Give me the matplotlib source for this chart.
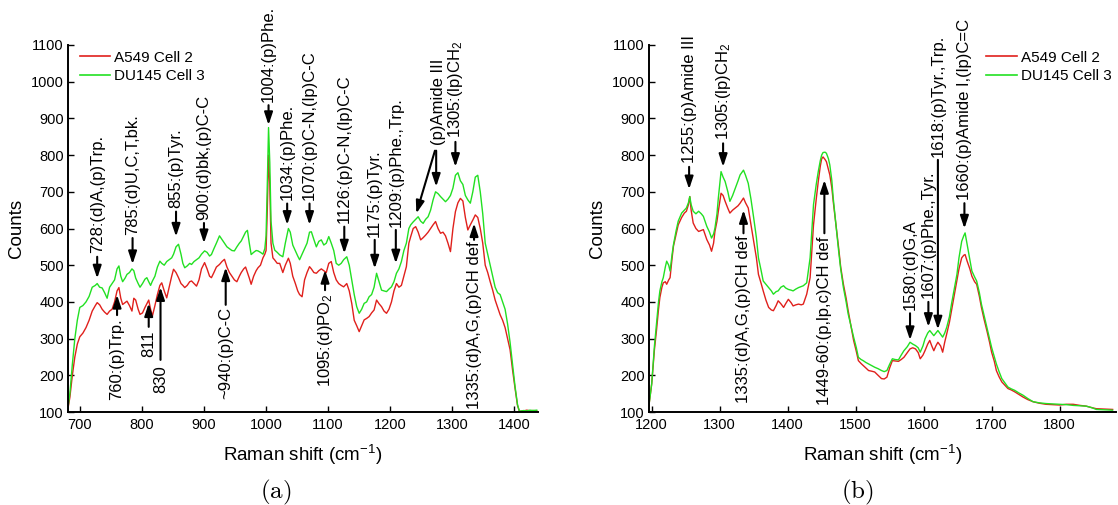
import matplotlib
matplotlib.use("Agg")
import matplotlib.pyplot as plt
from matplotlib.lines import Line2D

plt.rcParams['font.family'] = ['Liberation Sans', 'DejaVu Sans']
plt.rcParams['mathtext.fontset'] = 'custom'
plt.rcParams['mathtext.rm'] = 'Liberation Sans'
plt.rcParams['mathtext.it'] = 'Liberation Sans:italic'
plt.rcParams['mathtext.bf'] = 'Liberation Sans:bold'

RED = '#e0201c'
GREEN = '#22e022'
series_names = ['A549 Cell 2', 'DU145 Cell 3']

# ---- panel (a): fingerprint region ----
shift_a = [680, 684, 688, 692, 696, 700, 705, 710, 715, 720, 725, 728, 732, 736, 740,
           744, 748, 752, 756, 760, 763, 766, 769, 773, 776, 780, 784, 787, 790, 794,
           797, 801, 805, 808, 811, 814, 817, 821, 825, 829, 832, 836, 840, 844, 848,
           851, 855, 859, 863, 866, 869, 873, 877, 880, 884, 888, 892, 896, 901, 905,
           909, 912, 916, 920, 925, 929, 933, 937, 941, 945, 949, 953, 957, 960, 964,
           967, 970, 973, 976, 980, 984, 987, 991, 995, 998, 1000, 1002, 1004, 1006, 1008,
           1011, 1014, 1018, 1022, 1027, 1031, 1036, 1039, 1043, 1047, 1051, 1054, 1058, 1062, 1066,
           1070, 1073, 1077, 1081, 1085, 1089, 1093, 1097, 1101, 1105, 1109, 1113, 1117, 1121, 1125,
           1130, 1134, 1138, 1142, 1146, 1150, 1154, 1158, 1162, 1166, 1170, 1174, 1178, 1182, 1186,
           1190, 1194, 1198, 1202, 1206, 1210, 1214, 1218, 1222, 1226, 1230, 1233, 1237, 1241, 1245,
           1249, 1253, 1257, 1261, 1265, 1269, 1273, 1277, 1281, 1285, 1289, 1293, 1297, 1301, 1305,
           1309, 1313, 1317, 1321, 1325, 1329, 1333, 1337, 1341, 1345, 1349, 1353, 1357, 1361, 1365,
           1369, 1373, 1377, 1381, 1385, 1389, 1393, 1397, 1401, 1405, 1408, 1415, 1420, 1425, 1430,
           1436]
a549_a = [100, 140, 200, 250, 285, 305, 315, 330, 350, 375, 390, 398, 392, 380, 372,
          366, 375, 380, 400, 430, 439, 410, 393, 398, 402, 390, 375, 410, 405, 380,
          366, 370, 385, 395, 405, 380, 362, 390, 420, 445, 452, 430, 411, 440, 470,
          489, 480, 466, 450, 445, 439, 445, 455, 457, 450, 443, 460, 490, 507, 490,
          470, 466, 480, 495, 502, 510, 516, 495, 480, 470, 460, 455, 470, 480, 490,
          495, 480, 465, 448, 470, 485, 493, 500, 520, 530, 540, 650, 800, 720, 560,
          520, 514, 505, 505, 480, 500, 519, 505, 470, 451, 430, 420, 414, 460, 480,
          496, 490, 480, 478, 485, 490, 485, 480, 505, 510, 480, 460, 450, 445, 441,
          450, 430, 396, 350, 335, 319, 335, 351, 355, 360, 370, 378, 405, 395, 387,
          375, 369, 380, 400, 430, 450, 440, 445, 470, 496, 560, 578, 600, 605, 590,
          569, 575, 582, 590, 600, 610, 619, 600, 587, 590, 580, 560, 537, 600, 646,
          670, 682, 675, 630, 596, 610, 623, 637, 630, 600, 560, 500, 480, 455, 432,
          405, 385, 365, 350, 330, 300, 270, 215, 165, 118, 102, 103, 105, 103, 104,
          103]
du145_a = [100, 150, 230, 300, 350, 385, 390, 400, 415, 440, 445, 450, 440, 438, 425,
           410, 440, 450, 460, 490, 498, 470, 455, 465, 475, 480, 490, 485, 465, 450,
           440, 450, 462, 466, 455, 445, 457, 470, 495, 511, 505, 500, 510, 515, 520,
           530, 550, 557, 530, 505, 493, 498, 505, 502, 510, 515, 520, 530, 539, 535,
           525, 529, 545, 560, 580, 570, 560, 550, 545, 540, 539, 550, 560, 566, 580,
           590, 595, 560, 529, 535, 540, 539, 535, 530, 545, 580, 720, 875, 780, 620,
           560, 541, 535, 528, 523, 560, 600, 590, 555, 540, 525, 515, 530, 545, 560,
           590, 591, 570, 550, 565, 569, 555, 560, 578, 560, 540, 505, 500, 505, 515,
           523, 500, 460, 420, 387, 369, 380, 396, 400, 414, 420, 440, 478, 455, 432,
           430, 428, 435, 441, 455, 478, 490, 510, 540, 560, 600, 610, 618, 625, 632,
           620, 614, 625, 632, 650, 678, 700, 695, 687, 680, 673, 680, 690, 710, 745,
           752, 730, 720, 690, 678, 669, 700, 740, 745, 700, 640, 560, 530, 500, 470,
           440, 425, 420, 400, 380, 340, 290, 230, 170, 120, 102, 104, 103, 105, 104,
           105]

# ---- panel (b): high-wavenumber region ----
shift_b = [1195, 1200, 1204, 1207, 1210, 1212, 1215, 1217, 1220, 1222, 1225, 1227, 1230, 1232, 1236,
           1239, 1244, 1248, 1251, 1254, 1256, 1258, 1261, 1265, 1269, 1273, 1276, 1281, 1285, 1288,
           1291, 1293, 1296, 1298, 1302, 1305, 1308, 1312, 1315, 1319, 1323, 1327, 1330, 1335, 1338,
           1342, 1346, 1350, 1354, 1357, 1361, 1364, 1368, 1372, 1376, 1379, 1383, 1386, 1390, 1394,
           1397, 1401, 1405, 1408, 1412, 1416, 1420, 1423, 1428, 1433, 1438, 1442, 1445, 1448, 1450,
           1452, 1455, 1457, 1460, 1462, 1465, 1467, 1471, 1475, 1478, 1482, 1486, 1489, 1493, 1497,
           1501, 1504, 1508, 1511, 1515, 1519, 1524, 1528, 1533, 1538, 1542, 1546, 1550, 1554, 1558,
           1563, 1567, 1571, 1576, 1580, 1584, 1588, 1592, 1595, 1599, 1602, 1606, 1609, 1612, 1615,
           1618, 1621, 1625, 1628, 1631, 1634, 1638, 1641, 1645, 1649, 1652, 1656, 1659, 1661, 1664,
           1668, 1671, 1675, 1678, 1682, 1685, 1689, 1693, 1697, 1700, 1704, 1707, 1711, 1715, 1720,
           1724, 1729, 1734, 1740, 1746, 1753, 1761, 1770, 1780, 1790, 1800, 1810, 1820, 1830, 1839,
           1847, 1854, 1865, 1878]
a549_b = [105, 177, 270, 322, 380, 412, 440, 452, 455, 448, 460, 466, 520, 552, 585,
          610, 630, 642, 647, 665, 687, 650, 615, 600, 592, 595, 597, 570, 555, 538,
          560, 592, 620, 647, 696, 690, 674, 655, 642, 650, 656, 662, 669, 683, 670,
          656, 610, 565, 520, 475, 450, 430, 405, 385, 378, 376, 390, 403, 395, 385,
          395, 407, 398, 389, 392, 394, 392, 394, 421, 466, 610, 680, 728, 770, 790,
          795, 788, 782, 760, 746, 710, 674, 610, 547, 495, 448, 410, 376, 335, 295,
          265, 240, 232, 227, 220, 213, 211, 209, 200, 191, 190, 195, 220, 240, 239,
          238, 243, 249, 262, 272, 275, 272, 262, 245, 255, 267, 285, 295, 280, 267,
          280, 290, 280, 263, 290, 313, 345, 376, 417, 457, 490, 520, 527, 529, 511,
          490, 470, 455, 448, 415, 385, 352, 322, 290, 263, 238, 213, 196, 182, 172,
          164, 160, 155, 148, 141, 134, 128, 124, 121, 120, 119, 121, 121, 118, 116,
          112, 109, 108, 107]
du145_b = [105, 177, 280, 340, 400, 430, 455, 466, 495, 511, 500, 484, 530, 556, 595,
           620, 642, 650, 656, 670, 687, 665, 647, 640, 647, 640, 633, 606, 590, 574,
           585, 601, 640, 683, 755, 740, 728, 700, 674, 690, 710, 730, 746, 759, 745,
           723, 680, 629, 575, 520, 485, 457, 448, 439, 430, 421, 428, 430, 440, 444,
           438, 434, 432, 430, 435, 439, 442, 444, 452, 520, 665, 720, 755, 785, 800,
           807, 808, 805, 790, 773, 730, 683, 610, 538, 490, 439, 400, 367, 335, 304,
           275, 249, 243, 240, 235, 231, 226, 222, 218, 213, 210, 213, 230, 245, 243,
           242, 255, 267, 278, 290, 285, 281, 275, 263, 280, 299, 315, 322, 315, 308,
           315, 322, 312, 304, 315, 331, 360, 394, 435, 475, 520, 565, 580, 588, 556,
           515, 484, 468, 457, 425, 394, 362, 331, 300, 276, 250, 231, 210, 191, 178,
           168, 163, 159, 152, 146, 137, 128, 125, 123, 122, 121, 120, 118, 117, 116,
           112, 107, 106, 105]

W, H = 1118, 505
fig = plt.figure(figsize=(W / 100, H / 100), dpi=100)
ax_a = fig.add_axes([68 / W, 1 - 412 / H, 470 / W, 367 / H])
ax_b = fig.add_axes([649 / W, 1 - 412 / H, 467 / W, 367 / H])

ARROW = dict(arrowstyle='-|>,head_length=0.75,head_width=0.25', color='black',
             lw=1.5, shrinkA=0, shrinkB=0, mutation_scale=10)
LABEL_FS = 12


def down(ax, x, tip, tail, base, label):
    ax.annotate('', xy=(x, tip), xytext=(x, tail), arrowprops=ARROW)
    ax.text(x, base, label, rotation=90, ha='center', va='bottom', fontsize=LABEL_FS)


def up(ax, x, tip, tail, top, label):
    ax.annotate('', xy=(x, tip), xytext=(x, tail), arrowprops=ARROW)
    ax.text(x, top, label, rotation=90, ha='center', va='top', fontsize=LABEL_FS)


def style(ax, xlim, xticks, legend_x, tag, tag_x):
    ax.set_xlim(*xlim)
    ax.set_ylim(100, 1100)
    ax.set_xticks(xticks)
    ax.set_yticks(range(100, 1101, 100))
    for s in ('top', 'right'):
        ax.spines[s].set_visible(False)
    for s in ('left', 'bottom'):
        ax.spines[s].set_linewidth(1.4)
    ax.tick_params(direction='in', length=4, width=1, labelsize=10.5, pad=3)
    ax.tick_params(axis='x', pad=4)
    ax.set_xlabel(r'Raman shift (cm$^{-1}$)', fontsize=13.5)
    ax.xaxis.set_label_coords(0.5, -0.085)
    ax.set_ylabel('Counts', fontsize=13.5)
    ax.yaxis.set_label_coords(-0.092, 0.5)
    handles = [Line2D([], [], color=RED, lw=1.2), Line2D([], [], color=GREEN, lw=1.2)]
    ax.legend(handles, series_names, loc='upper left', bbox_to_anchor=(legend_x, 0.985),
              frameon=False, fontsize=11, handlelength=2.0, handletextpad=0.25,
              labelspacing=0.32, borderpad=0, borderaxespad=0)
    fig.text(tag_x / W, 1 - 492 / H, r'$\mathrm{(%s)}$' % tag, math_fontfamily='cm',
             fontsize=18, ha='center', va='center')


# panel (a)
ax_a.plot(shift_a, a549_a, color=RED, lw=1.0)
ax_a.plot(shift_a, du145_a, color=GREEN, lw=1.0)
style(ax_a, (681, 1438), range(700, 1401, 100), 0.025, 'a', 276)

down(ax_a, 728, 464, 523, 534, '728:(d)A,(p)Trp.')
down(ax_a, 785, 503, 574, 582, '785:(d)U,C,T,bk.')
down(ax_a, 855, 578, 646, 656, '855:(p)Tyr.')
down(ax_a, 900, 560, 615, 623, '900:(d)bk,(p)C-C')
down(ax_a, 1004, 882, 936, 945, '1004:(p)Phe.')
down(ax_a, 1034, 610, 668, 678, '1034:(p)Phe.')
down(ax_a, 1070, 610, 668, 678, '1070:(p)C-N,(lp)C-C')
down(ax_a, 1126, 532, 605, 614, '1126:(p)C-N,(lp)C-C')
down(ax_a, 1175, 491, 569, 578, '1175:(p)Tyr.')
down(ax_a, 1209, 505, 596, 605, '1209:(p)Phe.,Trp.')
down(ax_a, 1305, 768, 836, 846, r'1305:(lp)CH$_2$')
ax_a.text(1277, 827, '(p)Amide III', rotation=90, ha='center', va='bottom', fontsize=LABEL_FS)
ax_a.annotate('', xy=(1274, 714), xytext=(1274, 812), arrowprops=ARROW)
ax_a.annotate('', xy=(1242, 641), xytext=(1272, 812), arrowprops=ARROW)
up(ax_a, 760, 419, 364, 355, '760:(p)Trp.')
up(ax_a, 811, 396, 332, 323, '811')
up(ax_a, 830, 440, 242, 228, '830')
up(ax_a, 935, 494, 392, 387, '~940:(p)C-C')
up(ax_a, 1095, 487, 432, 423, r'1095:(d)PO$_2$')
up(ax_a, 1335, 614, 569, 564, '1335:(d)A,G,(p)CH def')

# panel (b)
ax_b.plot(shift_b, a549_b, color=RED, lw=1.0)
ax_b.plot(shift_b, du145_b, color=GREEN, lw=1.0)
style(ax_b, (1196, 1883), range(1200, 1801, 100), 0.722, 'b', 857)

down(ax_b, 1255, 707, 768, 778, '1255:(p)Amide III')
down(ax_b, 1305, 768, 832, 841, r'1305:(lp)CH$_2$')
up(ax_b, 1335, 650, 587, 582, '1335:(d)A,G,(p)CH def')
up(ax_b, 1454, 732, 587, 578, '1449-60:(p,lp,c)CH def')
down(ax_b, 1580, 296, 369, 378, '1580:(d)G,A')
down(ax_b, 1607, 332, 400, 410, '1607:(p)Phe.,Tyr.')
down(ax_b, 1621, 325, 787, 796, '1618:(p)Tyr.,Trp.')
down(ax_b, 1660, 600, 669, 678, '1660:(p)Amide I,(lp)C=C')

fig.savefig('out.png', dpi=100)
